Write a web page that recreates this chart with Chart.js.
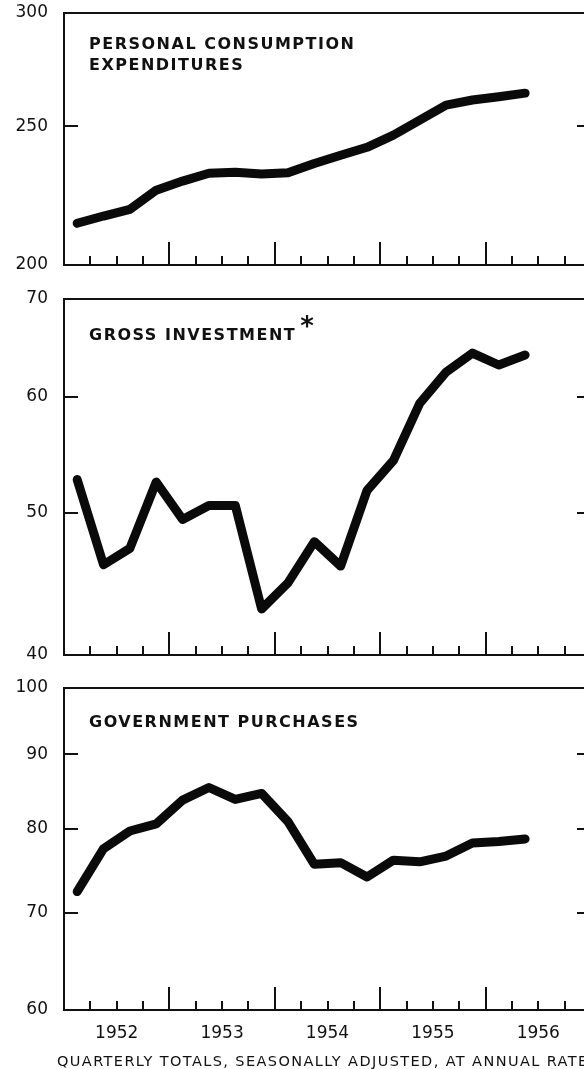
<!DOCTYPE html>
<html>
<head>
<meta charset="utf-8">
<script src="https://cdn.jsdelivr.net/npm/chart.js@4.4.0/dist/chart.umd.min.js"></script>
<style>
  html, body { margin: 0; padding: 0; background: #fff; overflow: hidden; }
  #page { position: relative; width: 584px; height: 1069px; overflow: hidden; background: #fff; }
  canvas { position: absolute; left: 0; }
  .title {
    position: absolute; left: 89px;
    font-family: "DejaVu Sans", sans-serif; font-weight: bold;
    font-size: 16px; line-height: 21px; letter-spacing: 1.5px;
    color: #111; white-space: nowrap;
  }
  .star { font-size: 26px; position: relative; top: -5px; margin-left: 4px; }
  #note {
    position: absolute; left: 57px; top: 1051px;
    font-family: "DejaVu Sans", sans-serif; font-size: 14.5px; line-height: 20px;
    letter-spacing: 1.4px; color: #111; white-space: nowrap;
  }
</style>
</head>
<body>
<div id="page">
  <canvas id="pceChart" width="600" height="280" style="top:0px"></canvas>
  <canvas id="invChart" width="600" height="384" style="top:286px"></canvas>
  <canvas id="govChart" width="600" height="394" style="top:675px"></canvas>
  <div class="title" style="top:33px">PERSONAL CONSUMPTION<br>EXPENDITURES</div>
  <div class="title" style="top:321px">GROSS INVESTMENT<span class="star">*</span></div>
  <div class="title" style="top:711px">GOVERNMENT PURCHASES</div>
  <div id="note">QUARTERLY TOTALS, SEASONALLY ADJUSTED, AT ANNUAL RATES</div>
</div>
<script>
// quarters plotted, 1952 Q1 .. 1956 Q2
const quarters = ['1952 Q1', '1952 Q2', '1952 Q3', '1952 Q4',
                  '1953 Q1', '1953 Q2', '1953 Q3', '1953 Q4',
                  '1954 Q1', '1954 Q2', '1954 Q3', '1954 Q4',
                  '1955 Q1', '1955 Q2', '1955 Q3', '1955 Q4',
                  '1956 Q1', '1956 Q2'];
const yearLabels = ['1952', '1953', '1954', '1955', '1956'];

// billions of dollars, ratio scale
const pceValues = [213.9, 216.4, 218.7, 225.6, 228.9, 231.8, 232.2, 231.5, 232.0,
                   235.5, 238.6, 241.7, 246.5, 252.5, 258.7, 260.8, 262.2, 263.7];
const investValues = [52.7, 46.1, 47.3, 52.5, 49.5, 50.6, 50.6, 43.0, 44.8,
                      47.8, 46.0, 51.8, 54.3, 59.4, 62.4, 64.3, 63.1, 64.1];
const govValues = [72.4, 77.5, 79.7, 80.6, 83.7, 85.4, 83.8, 84.6, 80.9,
                   75.6, 75.8, 74.1, 76.1, 75.9, 76.6, 78.2, 78.4, 78.7];

const pceTicks = [200, 250, 300];
const investTicks = [40, 50, 60, 70];
const govTicks = [60, 70, 80, 90, 100];

const firstYear = Number(yearLabels[0]);
const lastYear = Number(yearLabels[yearLabels.length - 1]) + 1;

// mid-quarter position in years
function quarterToYear(label) {
    const parts = label.split(' Q');
    return Number(parts[0]) + (Number(parts[1]) - 0.5) / 4;
}

// box round the plot, inward ticks on the sides and quarter ticks on the base
const framePlugin = {
    id: 'frame',
    beforeDatasetsDraw(chart) {
        const ctx = chart.ctx;
        const a = chart.chartArea;
        const x = chart.scales.x;
        const y = chart.scales.y;
        ctx.save();
        ctx.strokeStyle = '#111';
        ctx.lineWidth = 2;
        ctx.strokeRect(a.left, a.top, a.right - a.left, a.bottom - a.top);

        ctx.beginPath();
        y.ticks.forEach(t => {
            if (t.value <= y.min || t.value >= y.max) return;
            const py = Math.round(y.getPixelForValue(t.value));
            ctx.moveTo(a.left, py);
            ctx.lineTo(a.left + 14, py);
            ctx.moveTo(a.right - 14, py);
            ctx.lineTo(a.right, py);
        });
        for (let q = 1; q < (lastYear - firstYear) * 4; q++) {
            const px = Math.round(x.getPixelForValue(firstYear + q / 4));
            const len = q % 4 === 0 ? 23 : 9;
            ctx.moveTo(px, a.bottom);
            ctx.lineTo(px, a.bottom - len);
        }
        ctx.stroke();
        ctx.restore();
    }
};

function makePanel(canvasId, values, tickValues, padTop, padBottom, showYears) {
    const ctx = document.getElementById(canvasId).getContext('2d');
    return new Chart(ctx, {
        type: 'line',
        data: {
            labels: quarters,
            datasets: [{
                data: values.map((v, i) => ({ x: quarterToYear(quarters[i]), y: v })),
                borderColor: '#0a0a0a',
                borderWidth: 9,
                borderJoinStyle: 'round',
                borderCapStyle: 'round',
                pointRadius: 0,
                tension: 0,
                fill: false
            }]
        },
        options: {
            responsive: false,
            animation: false,
            layout: { padding: { top: padTop, bottom: padBottom, left: 0, right: 9 } },
            plugins: {
                legend: { display: false },
                tooltip: { enabled: false }
            },
            scales: {
                x: {
                    type: 'linear',
                    display: showYears,
                    min: firstYear,
                    max: lastYear,
                    grid: { display: false, drawTicks: false },
                    border: { display: false },
                    afterBuildTicks: axis => {
                        axis.ticks = yearLabels.map(l => ({ value: Number(l) + 0.5 }));
                    },
                    afterFit: axis => {
                        axis.height = showYears ? 59 : 0;
                        axis.paddingLeft = 0;
                        axis.paddingRight = 0;
                    },
                    ticks: {
                        autoSkip: false,
                        maxRotation: 0,
                        padding: 13,
                        color: '#111',
                        font: { family: 'DejaVu Sans', size: 17 },
                        callback: (v, i) => yearLabels[i]
                    }
                },
                y: {
                    type: 'logarithmic',
                    min: tickValues[0],
                    max: tickValues[tickValues.length - 1],
                    grid: { display: false, drawTicks: false },
                    border: { display: false },
                    afterBuildTicks: axis => {
                        axis.ticks = tickValues.map(v => ({ value: v }));
                    },
                    afterFit: axis => {
                        axis.width = 64;
                        axis.paddingTop = 0;
                        axis.paddingBottom = 0;
                    },
                    ticks: {
                        padding: 16,
                        color: '#111',
                        font: { family: 'DejaVu Sans', size: 17 },
                        callback: v => String(v)
                    }
                }
            }
        },
        plugins: [framePlugin]
    });
}

makePanel('pceChart', pceValues, pceTicks, 13, 15, false);
makePanel('invChart', investValues, investTicks, 13, 15, false);
makePanel('govChart', govValues, govTicks, 13, 0, true);
</script>
</body>
</html>
